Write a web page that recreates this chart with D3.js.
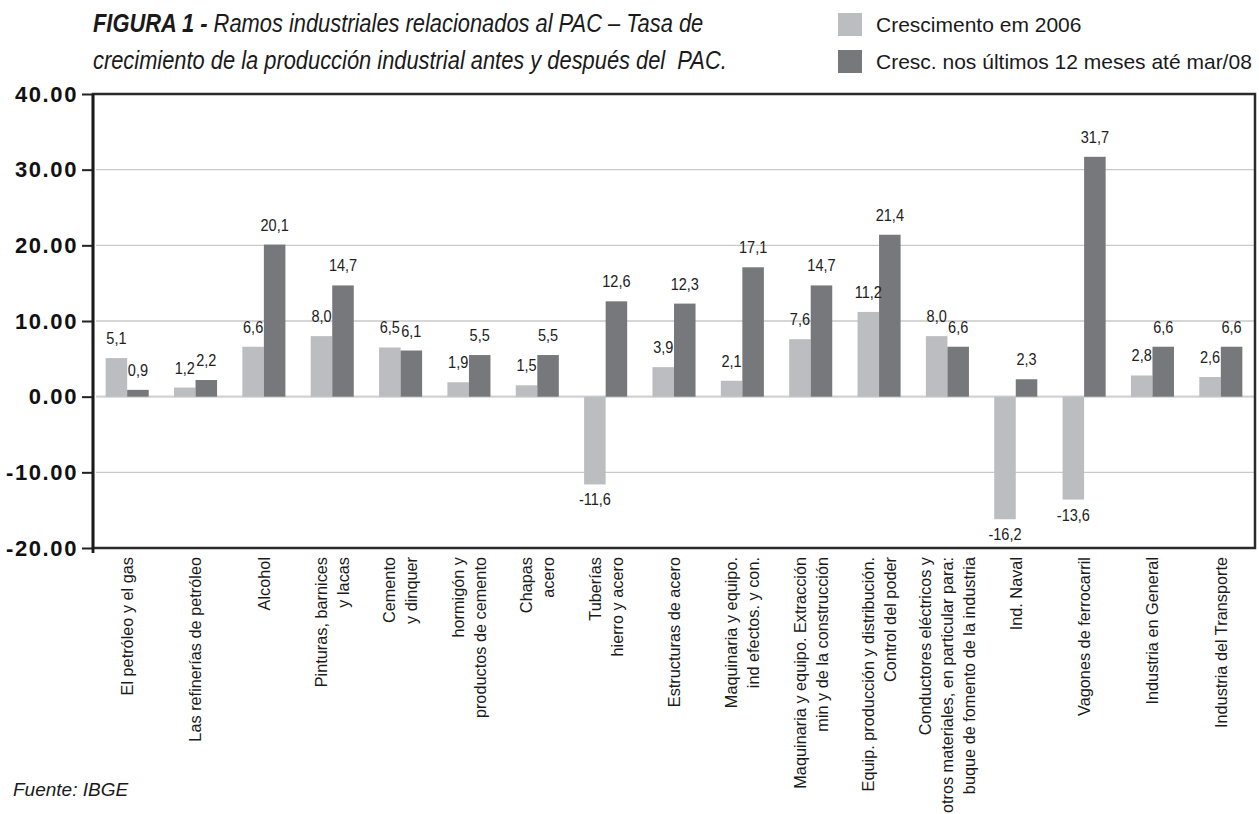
<!DOCTYPE html>
<html>
<head>
<meta charset="utf-8">
<script src="https://cdn.jsdelivr.net/npm/d3@7"></script>
<style>
  body { margin: 0; background: #fff; }
  svg { display: block; }
</style>
</head>
<body>
<svg id="chart" width="1259" height="814"></svg>
<script>
// Industrial branches (each entry is the list of wrapped label lines)
const categories = [
  ["El petróleo y el gas"],
  ["Las refinerías de petróleo"],
  ["Alcohol"],
  ["Pinturas, barnices", "y lacas"],
  ["Cemento", "y dinquer"],
  ["hormigón y", "productos de cemento"],
  ["Chapas", "acero"],
  ["Tuberías", "hierro y acero"],
  ["Estructuras de acero"],
  ["Maquinaria y equipo.", "ind efectos. y con."],
  ["Maquinaria y equipo. Extracción", "min y de la construcción"],
  ["Equip. producción y distribución.", "Control del poder"],
  ["Conductores eléctricos y", "otros materiales, en particular para:", "buque de fomento de la industria"],
  ["Ind. Naval"],
  ["Vagones de ferrocarril"],
  ["Industria en General"],
  ["Industria del Transporte"]
];

const seriesNames = ["Crescimento em 2006", "Cresc. nos últimos 12 meses até mar/08"];

// Growth in 2006 (%)
const growth2006 = [5.1, 1.2, 6.6, 8.0, 6.5, 1.9, 1.5, -11.6, 3.9, 2.1, 7.6, 11.2, 8.0, -16.2, -13.6, 2.8, 2.6];
// Growth over the last 12 months up to Mar/08 (%)
const growthMar08 = [0.9, 2.2, 20.1, 14.7, 6.1, 5.5, 5.5, 12.6, 12.3, 17.1, 14.7, 21.4, 6.6, 2.3, 31.7, 6.6, 6.6];

const yTicks = [-20, -10, 0, 10, 20, 30, 40];

const titleBold = "FIGURA 1 -";
const titleLine1 = " Ramos industriales relacionados al PAC – Tasa de";
const titleLine2 = "crecimiento de la producción industrial antes y después del  PAC.";
const sourceNote = "Fuente: IBGE";

const colors = ["#bcbdc1", "#77787c"];

const svg = d3.select("#chart");
const plot = { left: 93, right: 1255, top: 94, bottom: 548 };
const sans = "'Liberation Sans', Arial, sans-serif";

const keys = categories.map((c, i) => i);
const x0 = d3.scaleBand().domain(keys).range([plot.left, plot.right])
  .paddingInner(0.37).paddingOuter(0.185);
const x1 = d3.scaleBand().domain([0, 1]).range([0, x0.bandwidth()]);
const y = d3.scaleLinear().domain([-20, 40]).range([plot.bottom, plot.top]);

// Decimal comma, plain hyphen for negatives
const numFmt = v => d3.format(".1f")(v).replace(".", ",").replace("\u2212", "-");

// Gridlines
svg.append("g")
  .selectAll("line")
  .data(yTicks.filter(t => t > -20 && t < 40))
  .join("line")
  .attr("x1", plot.left + 3)
  .attr("x2", plot.right)
  .attr("y1", d => y(d))
  .attr("y2", d => y(d))
  .attr("stroke", d => d === 0 ? "#d2d2d2" : "#c9c9c9")
  .attr("stroke-width", d => d === 0 ? 2.2 : 1.4);

// Bars
const data = keys.map(i => ({ i, vals: [growth2006[i], growthMar08[i]] }));
const groups = svg.append("g").selectAll("g")
  .data(data)
  .join("g")
  .attr("transform", d => `translate(${x0(d.i)},0)`);

groups.selectAll("rect")
  .data(d => d.vals.map((v, s) => ({ v, s })))
  .join("rect")
  .attr("x", d => x1(d.s))
  .attr("width", x1.bandwidth())
  .attr("y", d => y(Math.max(0, d.v)))
  .attr("height", d => Math.abs(y(d.v) - y(0)))
  .attr("fill", d => colors[d.s]);

// Value labels (slightly condensed)
groups.selectAll("text")
  .data(d => d.vals.map((v, s) => ({ v, s })))
  .join("text")
  .attr("transform", d => {
    const tx = x1(d.s) + x1.bandwidth() / 2;
    const ty = d.v >= 0 ? y(d.v) - 14 : y(d.v) + 21;
    return `translate(${tx},${ty}) scale(0.88,1)`;
  })
  .attr("text-anchor", "middle")
  .attr("font-family", sans)
  .attr("font-size", 16.5)
  .attr("fill", "#222")
  .text(d => numFmt(d.v));

// Y axis
const yAxis = d3.axisLeft(y).tickValues(yTicks).tickSize(11).tickPadding(4)
  .tickFormat(d3.format(".2f"));
const ya = svg.append("g").attr("transform", `translate(${plot.left},0)`).call(yAxis);
ya.select(".domain").remove();
ya.selectAll(".tick line").attr("stroke", "#222").attr("stroke-width", 2);
ya.selectAll(".tick text")
  .text(d => d3.format(".2f")(d).replace("\u2212", "-"))
  .attr("font-family", sans)
  .attr("font-weight", "bold")
  .attr("font-size", 22)
  .attr("letter-spacing", 1.6)
  .attr("fill", "#111");

// Frame
svg.append("rect")
  .attr("x", plot.left)
  .attr("y", plot.top)
  .attr("width", plot.right - plot.left)
  .attr("height", plot.bottom - plot.top)
  .attr("fill", "none")
  .attr("stroke", "#2a2a2a")
  .attr("stroke-width", 2.5);
svg.append("line")
  .attr("x1", plot.left).attr("x2", plot.left)
  .attr("y1", plot.top).attr("y2", plot.bottom + 5)
  .attr("stroke", "#1a1a1a").attr("stroke-width", 2.8);

// Category labels (rotated, lines right-aligned at the top)
const lineGap = 22;
const catG = svg.append("g").selectAll("g")
  .data(categories.map((lines, i) => ({ lines, i })))
  .join("g")
  .attr("transform", d => `translate(${x0(d.i) + x0.bandwidth() / 2},557)`);
catG.selectAll("text")
  .data(d => d.lines.map((t, k) => ({ t, k, n: d.lines.length })))
  .join("text")
  .attr("transform", "rotate(-90)")
  .attr("x", 0)
  .attr("y", d => (d.k - (d.n - 1) / 2) * lineGap)
  .attr("dy", "0.36em")
  .attr("text-anchor", "end")
  .attr("font-family", sans)
  .attr("font-size", 16.3)
  .attr("fill", "#1a1a1a")
  .text(d => d.t);

// Title (condensed italic, drawn by narrowing a regular face)
const title = svg.append("text")
  .attr("transform", "translate(93,0) scale(0.875,1)")
  .attr("font-family", sans)
  .attr("font-style", "italic")
  .attr("font-size", 25)
  .attr("fill", "#1a1a1a")
  .style("white-space", "pre");
title.append("tspan").attr("x", 0).attr("y", 32).attr("font-weight", "bold").text(titleBold);
title.append("tspan").text(titleLine1);
title.append("tspan").attr("x", 0).attr("y", 69).text(titleLine2);

// Legend
const legend = svg.append("g").selectAll("g")
  .data(seriesNames)
  .join("g")
  .attr("transform", (d, i) => `translate(838,${13 + i * 37})`);
legend.append("rect").attr("width", 24).attr("height", 23).attr("fill", (d, i) => colors[i]);
legend.append("text")
  .attr("x", 38).attr("y", 19)
  .attr("font-family", sans)
  .attr("font-size", 21)
  .attr("fill", "#1a1a1a")
  .text(d => d);

// Source note
svg.append("text")
  .attr("x", 13).attr("y", 796)
  .attr("font-family", sans)
  .attr("font-style", "italic")
  .attr("font-size", 19)
  .attr("fill", "#1a1a1a")
  .text(sourceNote);
</script>
</body>
</html>
